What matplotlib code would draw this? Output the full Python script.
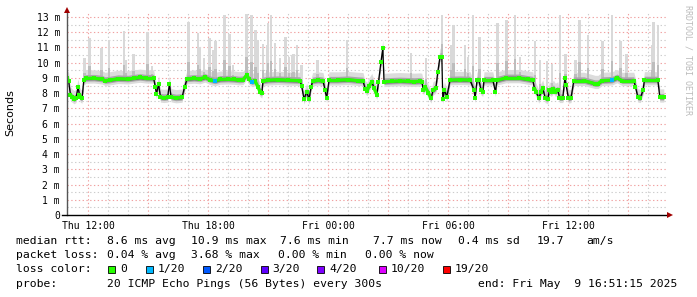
import numpy as np
import matplotlib
matplotlib.use('Agg')
import matplotlib.pyplot as plt
from matplotlib.patches import Rectangle
from matplotlib.lines import Line2D
from matplotlib.collections import LineCollection

# mediana rtt: horas desde Thu 00:00, valores en ms
med_t = [10.95, 11.03, 11.12, 11.20, 11.30, 11.40, 11.50, 11.57, 11.62, 11.70,
         11.79, 11.90, 12.30, 12.70, 12.85, 13.10, 13.50, 14.00, 14.30, 14.60,
         14.90, 15.28, 15.36, 15.42, 15.53, 15.62, 15.80, 15.98, 16.07, 16.15,
         16.40, 16.70, 16.83, 16.95, 17.30, 17.60, 17.85, 18.10, 18.35, 18.60,
         19.00, 19.30, 19.55, 19.75, 19.94, 20.05, 20.19, 20.35, 20.50, 20.60,
         20.69, 20.75, 21.00, 21.50, 22.00, 22.60, 22.68, 22.80, 22.93, 23.05,
         23.15, 23.23, 23.50, 23.75, 23.85, 23.93, 24.05, 24.50, 25.00, 25.50,
         25.75, 25.85, 25.95, 26.05, 26.19, 26.30, 26.44, 26.52, 26.65, 26.74,
         26.80, 27.20, 27.60, 28.00, 28.30, 28.60, 28.69, 28.77, 28.85, 29.02,
         29.15, 29.25, 29.39, 29.49, 29.60, 29.69, 29.74, 29.82, 29.94, 30.10,
         30.60, 31.10, 31.30, 31.35, 31.45, 31.54, 31.65, 31.74, 31.80, 32.24,
         32.37, 32.45, 32.90, 33.55, 34.00, 34.24, 34.32, 34.40, 34.54, 34.65,
         34.74, 34.85, 34.99, 35.07, 35.17, 35.27, 35.37, 35.49, 35.57, 35.74,
         35.84, 35.90, 36.02, 36.15, 36.29, 36.80, 37.35, 37.50, 37.70, 38.20,
         38.45, 38.70, 39.29, 39.37, 39.49, 39.62, 39.75, 39.82, 40.49, 40.59,
         40.79]
med_v = [8.97, 8.80, 7.88, 7.73, 7.62, 7.70, 8.38, 7.90, 7.72, 7.66,
         8.86, 8.97, 8.98, 8.92, 8.82, 8.86, 8.95, 8.92, 8.98, 9.03,
         8.98, 8.98, 8.43, 7.95, 8.60, 7.73, 7.70, 7.73, 8.60, 7.75,
         7.68, 7.72, 8.43, 8.93, 8.97, 8.93, 9.04, 8.88, 8.80, 8.90,
         8.92, 8.90, 8.86, 8.88, 9.20, 8.90, 8.75, 8.80, 8.40, 8.10,
         8.00, 8.80, 8.85, 8.88, 8.85, 8.82, 8.47, 7.60, 8.10, 7.60,
         8.40, 8.80, 8.85, 8.80, 8.20, 7.66, 8.85, 8.85, 8.88, 8.82,
         8.80, 8.30, 8.15, 8.45, 8.75, 8.32, 7.90, 8.70, 10.07, 10.95,
         8.75, 8.78, 8.80, 8.78, 8.76, 8.78, 8.75, 8.20, 8.43, 8.00,
         7.66, 8.20, 8.32, 9.40, 10.40, 10.40, 7.60, 8.20, 7.77, 8.86,
         8.88, 8.86, 8.20, 7.68, 8.84, 8.86, 8.20, 8.10, 8.85, 8.85,
         8.10, 8.85, 9.00, 9.00, 8.90, 8.85, 8.30, 8.10, 7.66, 8.10,
         8.32, 7.70, 7.62, 8.20, 8.10, 8.30, 8.10, 8.20, 7.70, 7.70,
         8.97, 8.55, 7.66, 7.70, 8.82, 8.82, 8.62, 8.62, 8.82, 8.85,
         9.00, 8.82, 8.82, 8.43, 7.73, 7.70, 8.20, 8.86, 8.86, 7.73,
         7.73]

# humo: picos de ping máximo (hora, ms)
spike_t = [11.83, 12.07, 12.68, 13.05, 13.80, 13.88, 14.27, 14.96, 15.20,
           17.03, 17.50, 17.59, 17.80, 18.09, 18.25, 18.38, 18.83, 19.09, 19.25,
           19.93, 20.18, 20.39, 20.50, 20.75, 20.94, 21.00, 21.14, 21.35, 21.60,
           21.88, 22.05, 22.19, 22.27, 22.45, 22.68, 23.48, 24.95,
           28.15, 28.90, 29.69, 30.15, 30.27, 30.85, 31.00, 31.24, 31.57,
           32.48, 32.93, 33.35, 33.60, 34.35, 34.60, 34.95, 35.20, 35.60, 35.88,
           36.38, 36.58, 37.00, 37.73, 38.20, 38.63, 38.93, 40.20, 40.28, 40.50]
spike_top = [10.3, 11.65, 10.95, 11.5, 12.05, 10.2, 10.6, 12.0, 9.8,
             12.7, 11.93, 11.05, 10.3, 11.6, 10.83, 11.4, 13.1, 11.9, 9.85,
             13.2, 13.1, 12.15, 11.5, 11.2, 11.16, 12.6, 13.1, 11.3, 10.3,
             11.7, 10.4, 10.5, 10.6, 11.16, 9.85, 10.2, 11.5,
             10.65, 10.3, 13.1, 11.16, 12.5, 11.16, 10.4, 13.1, 11.7,
             12.6, 12.8, 13.1, 10.4, 11.4, 10.2, 10.1, 9.9, 13.1, 10.6,
             10.2, 12.8, 11.8, 11.4, 13.1, 11.4, 10.6, 11.16, 12.7, 12.5]

# puntos con 1/20 de pérdida
loss_t = [18.35, 20.19, 38.20]
loss_v = [8.80, 8.75, 8.85]

y_ticks = list(range(14))
y_labels = ['0'] + ['%d m' % i for i in range(1, 14)]
x_ticks = [12, 18, 24, 30, 36]
x_labels = ['Thu 12:00', 'Thu 18:00', 'Fri 00:00', 'Fri 06:00', 'Fri 12:00']

loss_names = ['0', '1/20', '2/20', '3/20', '4/20', '10/20', '19/20']
loss_colors = ['#26ff00', '#00b8ff', '#0059ff', '#5e00ff', '#7e00ff', '#dd00ff', '#ff0000']

rtt_stats = ['8.6 ms avg', '10.9 ms max', '7.6 ms min', '7.7 ms now', '0.4 ms sd', '19.7', 'am/s']
loss_stats = ['0.04 % avg', '3.68 % max', '0.00 % min', '0.00 % now']
probe_txt = '20 ICMP Echo Pings (56 Bytes) every 300s'
end_txt = 'end: Fri May  9 16:51:15 2025'

W, H = 697, 297
MONO = 'DejaVu Sans Mono'


def px(x):
    return x / W


def py(y):
    return 1 - y / H


fig = plt.figure(figsize=(W / 100, H / 100), dpi=100)
fig.patch.set_facecolor('white')
ax = fig.add_axes([px(67), py(215), 600 / W, 202.6 / H])
ax.set_xlim(10.95, 40.95)
ax.set_ylim(0, 13.3)
for s in ax.spines.values():
    s.set_visible(False)

# grilla punteada
dots = (0, (1.2, 2.2))
for h in range(12, 41):
    c = '#f0a0a0' if h % 3 == 0 else '#cccccc'
    ax.axvline(h, color=c, lw=0.8, ls=dots, zorder=0)
for k in range(1, 27):
    v = k / 2
    c = '#f0a0a0' if k % 2 == 0 else '#cccccc'
    ax.axhline(v, color=c, lw=0.8, ls=dots, zorder=0)

t = np.array(med_t)
v = np.array(med_v)

# humo alrededor de la mediana
ax.fill_between(t, v - 0.32, v + 0.55, color='#dcdcdc', lw=0, zorder=1)
ax.fill_between(t, v - 0.18, v + 0.25, color='#a8a8a8', lw=0, zorder=2)
ax.fill_between(t, v - 0.1, v + 0.12, color='#6e6e6e', lw=0, zorder=2.1)

st = np.array(spike_t)
top = np.array(spike_top)
base = np.interp(st, t, v)
ax.bar(st, top - base, bottom=base, width=0.13, color='#d9d9d9', lw=0, zorder=1.5)
ax.bar(st, (top - base) * 0.3, bottom=base, width=0.13, color='#bdbdbd', lw=0, zorder=1.6)

# mediana
ax.plot(t, v, color='black', lw=0.9, zorder=4)
segs = []
for i in range(len(t) - 1):
    if abs(v[i + 1] - v[i]) / (t[i + 1] - t[i]) < 3:
        segs.append([(t[i], v[i]), (t[i + 1], v[i + 1])])
ax.add_collection(LineCollection(segs, colors='#26ff00', lw=2.3, zorder=5, capstyle='butt'))
ax.plot(t, v, 's', color='#26ff00', ms=2.3, mew=0, zorder=5)
ax.plot(loss_t, loss_v, 's', color='#00b8ff', ms=3, mew=0, zorder=6)

ax.set_yticks(y_ticks)
ax.set_yticklabels(y_labels, family=MONO, fontsize=7)
ax.set_xticks(x_ticks)
ax.set_xticklabels(x_labels, family=MONO, fontsize=7)
ax.tick_params(axis='y', length=0, pad=5)
ax.tick_params(axis='x', length=0, pad=4)

# ejes con flechas
fig.add_artist(Line2D([px(67), px(67)], [py(215), py(11)], color='#555555', lw=1))
fig.add_artist(Line2D([px(62), px(668)], [py(215), py(215)], color='black', lw=1))
fig.add_artist(Line2D([px(67)], [py(10)], marker='^', ms=4.5, color='#a00000', mew=0))
fig.add_artist(Line2D([px(670)], [py(215)], marker='>', ms=4.5, color='#a00000', mew=0))

fig.text(px(10), py(113), 'Seconds', rotation=90, ha='center', va='center', fontsize=8)
fig.text(px(688), py(60), 'RRDTOOL / TOBI OETIKER', rotation=270, ha='center', va='center',
         family=MONO, fontsize=6, color='#bbbbbb')

# leyenda
fs = 8.2
fig.text(px(16), py(241), 'median rtt:', family=MONO, fontsize=fs, va='center')
for x, s in zip([107.3, 191, 280, 372.7, 458.3, 537, 586], rtt_stats):
    fig.text(px(x), py(241), s, family=MONO, fontsize=fs, va='center')
fig.text(px(16), py(255), 'packet loss:', family=MONO, fontsize=fs, va='center')
for x, s in zip([107.3, 191, 278.3, 365], loss_stats):
    fig.text(px(x), py(255), s, family=MONO, fontsize=fs, va='center')
fig.text(px(16), py(269), 'loss color:', family=MONO, fontsize=fs, va='center')
for x, name, c in zip([108, 146, 203, 260.5, 317, 378.5, 442.5], loss_names, loss_colors):
    fig.add_artist(Rectangle((px(x), py(272.5)), 7 / W, 7 / H, transform=fig.transFigure,
                             facecolor=c, edgecolor='black', lw=0.6))
    fig.text(px(x + 12), py(269), name, family=MONO, fontsize=fs, va='center')
fig.text(px(16), py(284), 'probe:', family=MONO, fontsize=fs, va='center')
fig.text(px(107.3), py(284), probe_txt, family=MONO, fontsize=fs, va='center')
fig.text(px(478.3), py(284), end_txt, family=MONO, fontsize=fs, va='center')

fig.savefig('out.png', dpi=100)
